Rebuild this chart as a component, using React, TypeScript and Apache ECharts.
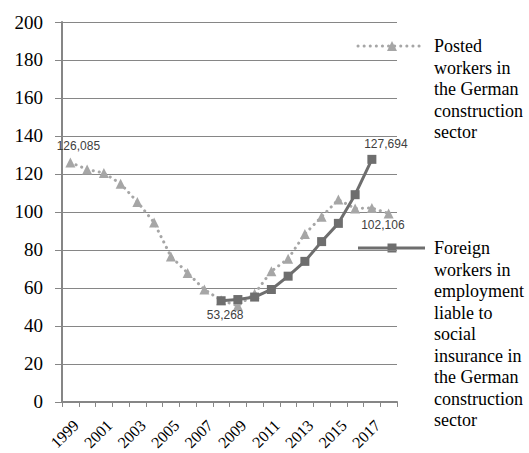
import React, { useEffect, useRef } from "react";
import * as echarts from "echarts";

const years = ["1999","2000","2001","2002","2003","2004","2005","2006","2007","2008","2009","2010","2011","2012","2013","2014","2015","2016","2017","2018"];
// thousands
const posted = [126.085, 122.4, 120.5, 114.9, 105.3, 94.4, 76.6, 67.9, 59.2, 53.5, 50.6, 57.0, 68.8, 75.4, 88.4, 97.5, 106.5, 101.8, 102.106, 99.2];
const foreign: (number | null)[] = [null, null, null, null, null, null, null, null, null, 53.268, 53.9, 55.2, 59.2, 66.2, 74.0, 84.4, 94.0, 109.1, 127.694, null];
const postedLabelIdx = [0, 18];
const foreignLabelIdx = [9, 18];
const postedLines = ["Posted", "workers in", "the German", "construction", "sector"];
const foreignLines = ["Foreign", "workers in", "employment", "liable to", "social", "insurance in", "the German", "construction", "sector"];

const fmt = (v: number) => Math.round(v * 1000).toLocaleString("en-US");

export default function App() {
  const ref = useRef<HTMLDivElement>(null);
  useEffect(() => {
    const chart = echarts.init(ref.current!, null, { renderer: "svg" });
    const labelStyle = { fontFamily: "Liberation Sans", fontSize: 12, color: "#404040" };
    const postedData = posted.map((v, i) => {
      if (!postedLabelIdx.includes(i)) return v;
      return {
        value: v,
        label: i === 0
          ? { show: true, position: "top", offset: [8, 0], formatter: (p: any) => fmt(p.value), ...labelStyle }
          : { show: true, position: "bottom", distance: 6, offset: [11, 0], formatter: (p: any) => fmt(p.value), ...labelStyle },
      };
    });
    const foreignData = foreign.map((v, i) => {
      if (!foreignLabelIdx.includes(i) || v == null) return v;
      return {
        value: v,
        label: i === 9
          ? { show: true, position: "bottom", distance: 4, offset: [4, 0], formatter: (p: any) => fmt(p.value), ...labelStyle }
          : { show: true, position: "top", distance: 5, offset: [14, 0], formatter: (p: any) => fmt(p.value), ...labelStyle },
      };
    });
    const serif = "Liberation Serif";
    const axisColor = "#868686";
    const lx1 = 358, lx2 = 425, lmx = 392, tx = 434, lh = 21.5, fs = 18;
    const y1 = 46, y2 = 248;
    const legendText = (lines: string[], cy: number) =>
      lines.map((t, i) => ({ type: "text", x: tx, y: cy - fs / 2 + i * lh, style: { text: t, fontFamily: serif, fontSize: fs, fill: "#000" } }));
    chart.setOption({
      animation: false,
      grid: { left: 62, right: 132, top: 22, bottom: 48, containLabel: false },
      xAxis: {
        type: "category",
        data: years,
        boundaryGap: true,
        axisLine: { lineStyle: { color: axisColor, width: 2 } },
        axisTick: { show: true, length: 5, interval: 0, lineStyle: { color: axisColor, width: 1 } },
        axisLabel: {
          interval: 1, rotate: 45, verticalAlign: "top", margin: 15, fontFamily: serif, fontSize: 16, color: "#000",
          formatter: (v: string) => `{s|${v}}`,
          rich: { s: { fontFamily: serif, fontSize: 16, color: "#000" } },
        },
        splitLine: { show: false },
      },
      yAxis: {
        type: "value",
        min: 0,
        max: 200,
        interval: 20,
        axisLine: { show: true, lineStyle: { color: axisColor, width: 2 } },
        axisTick: { show: true, length: 7, lineStyle: { color: axisColor, width: 1 } },
        axisLabel: {
          margin: 19, fontFamily: serif, fontSize: 19, color: "#000",
          formatter: (v: number) => `{s|${v}}`,
          rich: { s: { fontFamily: serif, fontSize: 19, color: "#000" } },
        },
        splitLine: { lineStyle: { color: axisColor, width: 1 } },
      },
      series: [
        {
          name: "Posted workers in the German construction sector",
          type: "line",
          data: postedData,
          symbol: "triangle",
          symbolSize: 10,
          z: 2,
          itemStyle: { color: "#A6A6A6" },
          lineStyle: { color: "#A6A6A6", width: 3, type: [0.1, 6], cap: "round" },
        },
        {
          name: "Foreign workers in employment liable to social insurance in the German construction sector",
          type: "line",
          data: foreignData,
          symbol: "rect",
          symbolSize: 9,
          z: 3,
          itemStyle: { color: "#6E6E6E" },
          lineStyle: { color: "#6E6E6E", width: 3 },
        },
      ],
      graphic: [
        { type: "line", shape: { x1: lx1, y1: y1, x2: lx2, y2: y1 }, style: { stroke: "#A6A6A6", lineWidth: 3, lineDash: [0.1, 6], lineCap: "round" } },
        { type: "polygon", shape: { points: [[lmx, y1 - 5], [lmx + 5, y1 + 5], [lmx - 5, y1 + 5]] }, style: { fill: "#A6A6A6" } },
        ...legendText(postedLines, y1),
        { type: "line", shape: { x1: lx1, y1: y2, x2: lx2, y2: y2 }, style: { stroke: "#6E6E6E", lineWidth: 3 } },
        { type: "rect", shape: { x: lmx - 4.5, y: y2 - 4.5, width: 9, height: 9 }, style: { fill: "#6E6E6E" } },
        ...legendText(foreignLines, y2),
      ],
    });
    return () => chart.dispose();
  }, []);
  return <div ref={ref} style={{ position: "absolute", left: 0, top: 0, width: 529, height: 453, background: "#fff" }} />;
}
